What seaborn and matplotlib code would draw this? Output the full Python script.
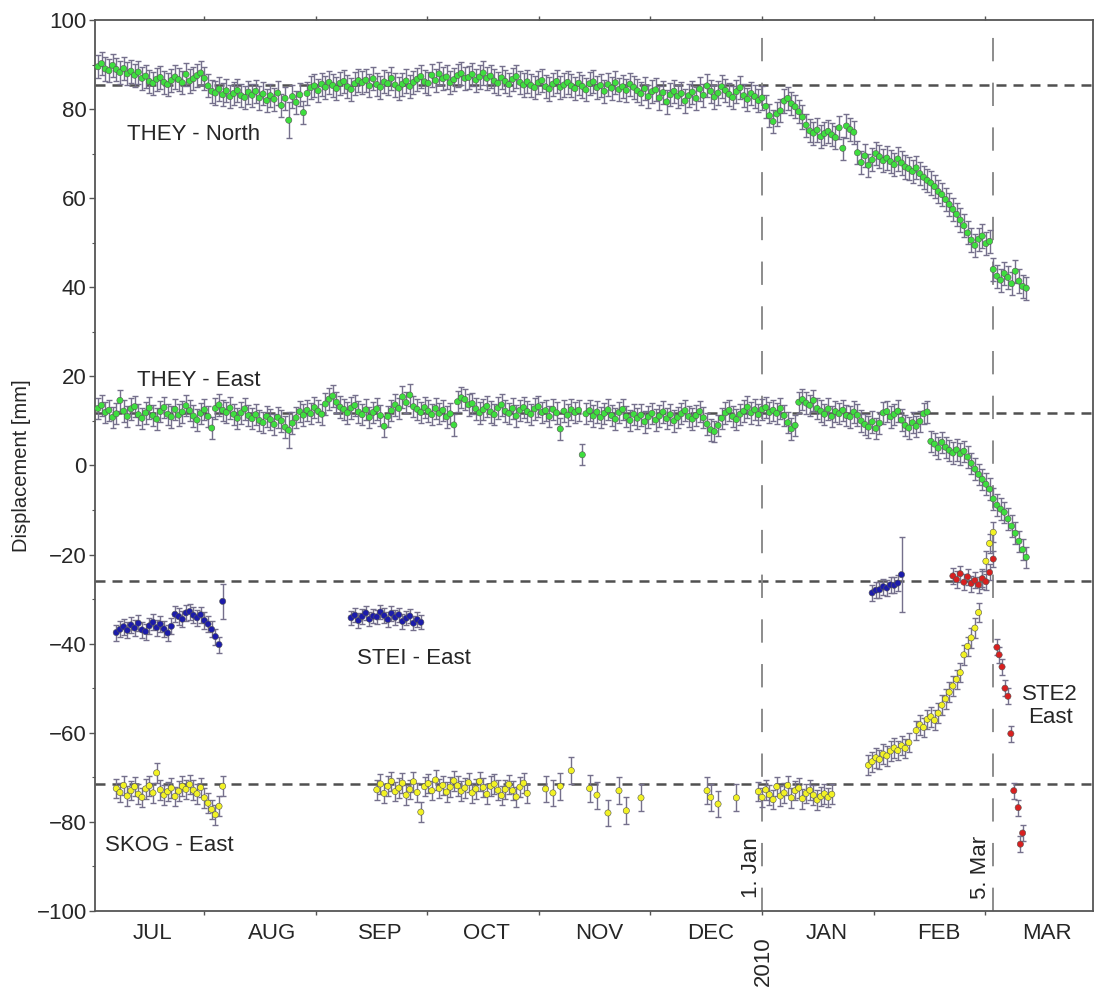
import numpy as np
import pandas as pd
import matplotlib
matplotlib.use("Agg")
import matplotlib.pyplot as plt
from matplotlib import font_manager
import seaborn as sns

# ---------------- data (x = days relative to 1 Jan 2010) ----------------
THEY_N_START = -181
THEY_N = [
    89.5, 90.2, 89.0, 88.6, 89.8, 88.9, 88.2, 89.1, 87.9, 88.5, 87.6, 88.3,
    86.9, 87.4, 86.2, 85.8, 86.7, 87.1, 86.0, 85.5, 86.4, 87.2, 86.6, 85.9, 87.8, 86.3, 86.8,
    87.5, 88.1, 86.9, 85.2, 84.0, 83.6, 84.5, 83.2, 84.1, 82.8, 83.5, 84.2, 83.0, 82.6, 83.8,
    83.1, 84.0, 82.5, 83.4, 81.9, 83.0, 82.2, 83.6, 80.8, 82.4, 77.5, 82.8, 81.5, 83.2, 79.2,
    83.5, 84.8, 85.2, 84.1, 85.6, 84.9, 86.0, 85.3, 84.6, 85.8, 86.2, 85.0, 84.4, 85.7, 86.4,
    85.9, 86.5, 85.2, 86.8, 85.5, 84.9, 86.1, 85.7, 86.9, 85.4, 84.7, 85.6, 86.3, 85.1, 86.0,
    86.7, 87.3, 86.1, 85.8, 87.6, 86.4, 87.9, 86.8, 87.2, 85.9, 86.6, 87.5, 88.0, 86.9, 87.1,
    87.8, 86.5, 87.2, 88.1, 86.9, 87.4, 86.3, 85.8, 87.0, 86.2, 85.5, 86.7, 87.3, 86.0, 85.4,
    86.1, 85.3, 84.8, 85.9, 86.4, 85.0, 84.5, 85.6, 86.2, 84.9, 85.4, 86.0, 85.2, 84.6, 85.8,
    85.1, 84.3, 85.7, 86.1, 84.8, 85.3, 84.0, 85.5, 84.7, 85.9, 84.4, 85.0, 84.2, 85.6, 84.9,
    84.1, 83.4, 84.6, 82.8, 83.9, 84.3, 82.5, 83.7, 81.6, 83.2, 84.0, 82.9, 83.5, 81.8, 83.0,
    83.8, 82.4, 84.5, 83.1, 85.2, 84.0, 82.7, 83.6, 85.0, 84.2, 83.3, 82.6, 83.9, 84.8, 83.0,
    82.2, 83.5, 82.8, 81.9,
    82.5, 80.6, 78.5, 77.2, 78.9, 79.6, 81.8, 82.4, 81.2, 80.5, 79.4, 78.2,
    76.4, 75.1, 74.6, 75.3, 73.8, 74.5, 75.0, 74.2, 73.6, 75.8, 71.2, 76.2, 75.4, 74.8,
    70.2, 68.0, 69.5, 67.4, 68.6, 70.0, 69.3, 68.4, 69.0, 68.2, 67.5, 68.8, 67.9, 67.0, 66.6,
    66.0, 66.8, 65.5, 64.7, 64.0, 63.4, 62.6, 61.5, 60.8, 59.7, 58.6, 57.5,
    56.4, 55.1, 53.8, 52.2, 50.6, 49.4, 50.8, 51.5, 49.8, 50.3,
    44.0, 42.5, 41.6, 43.1, 42.2, 40.8, 43.6, 41.4, 40.2, 39.8,
]
THEY_E_START = -181
THEY_E = [
    12.8, 13.5, 11.9, 12.4, 10.8, 11.6, 14.6, 12.2, 11.0, 12.7, 13.2, 11.4,
    10.6, 11.8, 12.9, 11.2, 10.4, 12.1, 13.0, 11.5, 10.9, 12.6, 11.3, 12.0, 13.4, 12.3, 11.1,
    10.2, 11.7, 12.5, 11.0, 8.4, 12.8, 13.6, 12.4, 11.9, 12.9, 11.5, 10.6, 11.8, 12.7, 11.2,
    10.5, 11.4, 10.1, 9.6, 11.0, 10.3, 9.2, 10.8, 10.0, 8.6, 7.9, 9.5, 10.7, 12.1, 11.3,
    12.4, 11.6, 13.0, 12.2, 11.5, 13.8, 14.9, 15.6, 14.2, 13.1, 12.6, 11.8, 12.9, 13.5, 12.0,
    11.4, 12.5, 10.8, 11.9, 12.7, 11.2, 8.8, 11.0, 12.3, 13.6, 12.8, 15.4, 14.1, 15.8, 13.2,
    12.6, 11.9, 13.0, 12.2, 11.4, 12.8, 11.7, 12.4, 10.9, 11.6, 9.1, 14.3, 15.2, 14.8, 13.6,
    13.9, 12.7, 11.8, 12.5, 13.3, 12.0, 11.4, 12.9, 13.6, 12.2, 11.7, 12.8, 11.1, 12.4, 13.0,
    12.1, 11.5, 12.7, 13.2, 11.9, 12.3, 11.0, 12.6, 11.8, 8.2, 12.2, 11.3, 12.5, 11.9, 12.4,
    2.4, 11.6, 12.3, 11.1, 12.0, 10.8, 11.7, 12.5, 11.2, 10.4, 11.9, 12.6, 11.0, 10.1, 11.5,
    10.6, 11.3, 9.8, 10.9, 11.7, 10.2, 11.1, 12.0, 10.5, 11.4, 10.0, 10.8, 11.6, 12.3, 11.0,
    10.4, 11.2, 12.1, 10.7, 9.3, 8.0, 7.6, 9.0, 10.6, 11.8, 12.4, 11.0, 10.3, 11.5, 12.2,
    13.1, 11.8, 12.5, 11.4,
    12.6, 13.0, 11.9, 12.4, 11.7, 12.8, 11.2, 9.6, 8.2, 9.0, 14.2, 14.8,
    14.0, 13.5, 14.6, 12.8, 12.2, 11.5, 12.7, 11.0, 12.1, 11.6, 12.4, 11.2, 10.9, 12.0,
    11.3, 10.0, 9.2, 8.6, 9.8, 8.3, 9.5, 11.8, 12.1, 10.9, 11.5, 12.2, 10.2, 9.0, 8.4,
    9.6, 8.8, 9.9, 11.6, 12.0, 5.4, 4.8, 3.9, 5.2, 4.1, 3.4, 2.8,
    3.5, 2.6, 3.2, 1.9, 0.5, -0.8, -2.0, -3.1, -4.2, -5.3,
    -7.5, -8.9, -9.8, -10.5, -12.0, -13.6, -15.2, -17.0, -18.9, -20.6,
]

STEI_JUL_START = -176
STEI_JUL = [-37.5, -36.8, -36.2, -37.0, -35.8, -36.5, -35.4, -36.9, -37.3, -36.0,
            -35.2, -36.4, -35.6, -36.7, -37.6, -36.1, -33.4, -33.9, -34.5, -33.1,
            -32.8, -33.6, -34.2, -33.5, -34.8, -35.6, -36.8, -38.4, -40.2, -30.5]
STEI_SEP_START = -112
STEI_SEP = [-34.2, -33.6, -34.8, -33.9, -33.1, -34.5, -33.8, -34.0, -32.9, -33.7,
            -34.6, -33.2, -34.1, -33.5, -35.0, -34.3, -33.8, -35.4, -34.6, -35.2]
STEI_FEB_START = 30
STEI_FEB = [-28.6, -28.0, -27.9, -27.2, -27.5, -26.8, -26.9, -26.4, -24.5]

STE2_DAYS = [52, 53, 54, 55, 56, 57, 58, 59, 60, 61, 62,
             63, 64, 64.6, 65.4, 66.2, 67, 67.8, 68.6, 69.8, 70.4, 71]
STE2 = [-24.8, -25.6, -24.3, -26.2, -25.0, -26.5, -25.8, -26.8, -25.4, -26.1, -24.0,
        -21.0, -40.8, -42.5, -45.2, -50.0, -51.8, -60.2, -73.0, -76.8, -85.0, -82.5]

SKOG_JUL_START = -176
SKOG_JUL = [-72.5, -73.4, -71.8, -74.2, -73.0, -72.1, -73.8, -74.5, -72.6, -71.9,
            -73.5, -69.0, -72.8, -74.0, -73.2, -72.4, -74.3, -73.1, -72.0, -72.7,
            -71.6, -72.9, -73.7, -72.3, -74.6, -75.8, -77.2, -78.4, -76.5, -72.0]
SKOG_SEP_START = -105
SKOG_SEP = [-72.8, -71.5, -73.6, -72.0, -70.9, -73.2, -72.4, -71.3, -74.0, -72.7,
            -71.0, -73.4, -77.8, -72.1, -71.4, -73.0, -70.6, -72.5, -71.8, -73.3,
            -72.2, -70.8, -71.9, -73.1, -72.4, -71.2, -73.5, -72.6, -70.9, -72.3,
            -73.8, -72.0, -71.5, -72.9, -74.1, -72.7, -71.6, -73.0, -74.4, -72.2,
            -71.3, -73.6]
SKOG_MISC_DAYS = [-59, -57, -55, -52, -47, -45, -42, -39, -37, -33, -15, -14, -12, -7]
SKOG_MISC = [-72.6, -73.5, -72.0, -68.5, -72.5, -74.0, -78.0, -73.0, -77.5, -74.6,
             -73.0, -74.5, -76.0, -74.6]
SKOG_JAN_START = -1
SKOG_JAN = [-73.2, -74.5, -72.8, -73.9, -75.0, -72.1, -74.2, -73.5, -71.8, -74.6,
            -73.0, -72.4, -74.8, -73.6, -72.9, -74.0, -75.1, -74.3, -73.7, -74.5, -73.8]
SKOG_RISE_DAYS = [29, 30, 31, 32, 33, 34, 35, 36, 37, 38, 39, 40,
                  42, 43, 44, 45, 46, 47, 48, 49, 50, 51, 52, 53, 54,
                  55, 56, 57, 58, 59, 60, 61, 62, 63]
SKOG_RISE = [-67.3, -66.5, -65.6, -66.0, -64.8, -65.2, -64.1, -63.4, -64.0, -62.9, -63.5, -62.2,
             -59.5, -58.2, -58.8, -57.0, -56.4, -57.2, -55.6, -53.8, -52.4, -50.9, -49.5, -48.0, -46.5,
             -42.5, -40.6, -38.7, -36.5, -33.0, -25.5, -21.5, -17.5, -15.0]

REF_LEVELS = [85.5, 11.7, -26.0, -71.6]
EVENT_DAYS = [0, 63]
EVENT_LABELS = ["1. Jan", "5. Mar"]
MONTHS = ["JUL", "AUG", "SEP", "OCT", "NOV", "DEC", "JAN", "FEB", "MAR"]
MONTH_POS = [-166, -133.6, -104.1, -75, -44.4, -13.9, 17.7, 48.3, 77.7]
MONTH_TICKS = [-152.08, -121.67, -91.25, -60.83, -30.42, 0, 30.42, 60.83]

# ---------------- build tables ----------------
def seq(start, vals, station, err):
    return pd.DataFrame({"day": np.arange(start, start + len(vals)), "mm": vals,
                         "station": station, "err": err})

def pts(days, vals, station, err):
    return pd.DataFrame({"day": days, "mm": vals, "station": station, "err": err})

frames = [
    seq(THEY_N_START, THEY_N, "THEY", 2.6),
    seq(THEY_E_START, THEY_E, "THEY", 2.4),
    seq(STEI_JUL_START, STEI_JUL, "STEI", 1.8),
    seq(STEI_SEP_START, STEI_SEP, "STEI", 1.6),
    seq(STEI_FEB_START, STEI_FEB, "STEI", 1.8),
    seq(SKOG_JUL_START, SKOG_JUL, "SKOG", 2.2),
    seq(SKOG_SEP_START, SKOG_SEP, "SKOG", 2.2),
    pts(SKOG_MISC_DAYS, SKOG_MISC, "SKOG", 3.0),
    seq(SKOG_JAN_START, SKOG_JAN, "SKOG", 2.2),
    pts(SKOG_RISE_DAYS, SKOG_RISE, "SKOG", 2.2),
    pts(STE2_DAYS, STE2, "STE2", 1.8),
]
df = pd.concat(frames, ignore_index=True)
# a few visibly longer error bars
df.loc[(df.station == "STEI") & (df.day == 38), "err"] = 8.5
df.loc[(df.station == "STEI") & (df.day == -147), "err"] = 4.0
df.loc[(df.station == "THEY") & (df.day == -129), "err"] = 4.0

palette = {"THEY": "#3ede3e", "STEI": "#1c1caa", "SKOG": "#f2f224", "STE2": "#d82020"}

# ---------------- figure ----------------
sns.set_theme(style="white")
plt.rcParams["font.family"] = ["Liberation Sans", "DejaVu Sans"]
fig = plt.figure(figsize=(10.97, 9.93), dpi=100)
ax = fig.add_axes([0.0866, 0.0826, 0.9098, 0.8973])

ax.set_xlim(-181.8, 90.2)
ax.set_ylim(-100, 100)

for lvl in REF_LEVELS:
    ax.axhline(lvl, color="#505050", lw=1.8, dashes=(4, 2.8), zorder=1)
for d in EVENT_DAYS:
    ax.axvline(d, color="#8c8c8c", lw=1.4, dashes=(12, 11), zorder=1)

for st in ["THEY", "STEI", "SKOG", "STE2"]:
    sub = df[df.station == st]
    ax.errorbar(sub.day, sub.mm, yerr=sub.err, fmt="none", ecolor="#75708c",
                elinewidth=1.0, capsize=2.0, capthick=1.0, zorder=2)

sns.scatterplot(data=df, x="day", y="mm", hue="station", palette=palette,
                s=20, linewidth=0.4, edgecolor="#555555", legend=False, ax=ax, zorder=3)

# text labels
tc = "#262626"
ax.text(-173, 74.2, "THEY - North", fontsize=16, color=tc, va="center", ha="left")
ax.text(-170.4, 19.0, "THEY - East", fontsize=16, color=tc, va="center", ha="left")
ax.text(-110.4, -43.4, "STEI - East", fontsize=16, color=tc, va="center", ha="left")
ax.text(-179, -85.4, "SKOG - East", fontsize=16, color=tc, va="center", ha="left")
ax.text(78.5, -54, "STE2\nEast", fontsize=16, color=tc, va="center", ha="center",
        linespacing=1.15)
ax.text(-3.0, -90.3, EVENT_LABELS[0], fontsize=16, color=tc, rotation=90,
        va="center", ha="center")
ax.text(59.6, -90.3, EVENT_LABELS[1], fontsize=16, color=tc, rotation=90,
        va="center", ha="center")
ax.text(0.3, -111.3, "2010", fontsize=16, color=tc, rotation=90,
        va="center", ha="center", clip_on=False)

# axes styling
ax.set_xticks(MONTH_TICKS)
ax.set_xticklabels([])
ax.set_xticks(MONTH_POS, minor=True)
ax.set_xticklabels(MONTHS, minor=True, fontsize=16, color=tc)
ax.tick_params(axis="x", which="major", bottom=True, top=True, direction="out",
               length=3, width=1, color="#555555")
ax.tick_params(axis="x", which="minor", bottom=True, length=0, pad=9)
ax.set_yticks(np.arange(-100, 101, 20))
ax.set_yticks(np.arange(-90, 100, 20), minor=True)
ax.tick_params(axis="y", which="major", left=True, direction="out", length=4.5,
               width=1, color="#555555", labelsize=16, labelcolor=tc, pad=1.5)
ax.tick_params(axis="y", which="minor", left=True, direction="out", length=2.5,
               width=0.8, color="#555555")
ax.set_yticklabels(["\u2212%d" % -v if v < 0 else "%d" % v
                    for v in np.arange(-100, 101, 20)])
ax.set_xlabel("")
ax.set_ylabel("Displacement [mm]", fontsize=14.5, color=tc, labelpad=4)
for sp in ax.spines.values():
    sp.set_color("#555555")
    sp.set_linewidth(1.3)

fig.savefig("out.png", dpi=100)
